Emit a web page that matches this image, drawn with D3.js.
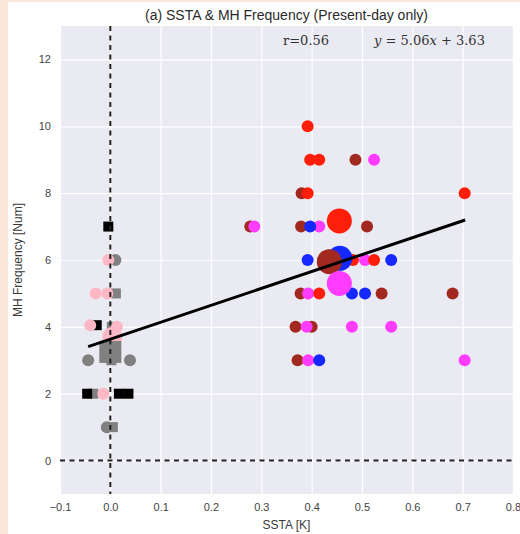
<!DOCTYPE html>
<html>
<head>
<meta charset="utf-8">
<script src="https://cdn.jsdelivr.net/npm/d3@7"></script>
<style>
  body { margin: 0; padding: 0; background: #fce8da; }
  svg { display: block; }
  text { font-family: "Liberation Sans", Arial, sans-serif; }
</style>
</head>
<body>
<svg id="chart" width="520" height="534"></svg>
<script>
// data

var xTicks = [-0.1, 0.0, 0.1, 0.2, 0.3, 0.4, 0.5, 0.6, 0.7, 0.8];
var yTicks = [0, 2, 4, 6, 8, 10, 12];

// present-day points near zero SSTA
var pinkX = [-0.004, -0.029, -0.006, -0.040, 0.013, -0.014];
var pinkY = [6, 5, 5, 4.05, 4, 2];
var grayCircX = [0.010, -0.044, 0.039, -0.007];
var grayCircY = [6, 3, 3, 1];
var graySqX = [0.011, 0.003, 0.002, -0.034, 0.005];
var graySqY = [5, 4, 3, 2, 1];
var blackSqX = [-0.004, -0.027, -0.046, 0.017, 0.036];
var blackSqY = [7, 4.05, 2, 2, 2];

// warm anomalies
var brownX = [0.487, 0.380, 0.278, 0.379, 0.510, 0.378, 0.539, 0.680, 0.368, 0.400, 0.372];
var brownY = [9, 8, 7, 7, 7, 5, 5, 5, 4, 4, 3];
var magentaX = [0.524, 0.286, 0.415, 0.506, 0.393, 0.390, 0.480, 0.558, 0.393, 0.704];
var magentaY = [9, 7, 7, 6, 5, 4, 4, 4, 3, 3];
var blueX = [0.397, 0.392, 0.558, 0.480, 0.506, 0.415];
var blueY = [7, 6, 6, 5, 5, 3];
var redX = [0.392, 0.397, 0.415, 0.392, 0.704, 0.482, 0.524, 0.415];
var redY = [10, 9, 9, 8, 8, 6, 6, 5];

// group means (big markers)
var meanNames = ["pink", "gray", "red", "blue", "brown", "magenta"];
var meanX = [0.004, 0.000, 0.455, 0.456, 0.435, 0.455];
var meanY = [3.7, 3.25, 7.17, 6.05, 5.95, 5.30];

// fit
var slope = 5.06, intercept = 3.63, rValue = 0.56;
var fitXmin = -0.044, fitXmax = 0.705;

var colors = {
  pink: "#ffb8c4", gray: "#808080", black: "#000000",
  brown: "#a2291f", magenta: "#ff3cff", blue: "#1428ff", red: "#ff1e0a"
};

var svg = d3.select("#chart");

// white figure area, peach strip shows at left/top
svg.append("rect").attr("x", 8).attr("y", 2).attr("width", 512).attr("height", 532).attr("fill", "#ffffff");

var plotLeft = 60, plotRight = 513, plotTop = 26, plotBottom = 494;

var x = d3.scaleLinear().domain([-0.1, 0.8]).range([plotLeft, plotRight]);
var y = d3.scaleLinear().domain([-1, 13]).range([plotBottom, plotTop]);

svg.append("rect")
  .attr("x", plotLeft).attr("y", plotTop)
  .attr("width", plotRight - plotLeft).attr("height", plotBottom - plotTop)
  .attr("fill", "#eaeaf2");

// grid
var xAxis = d3.axisBottom(x).tickValues(xTicks).tickSize(-(plotBottom - plotTop)).tickPadding(9)
  .tickFormat(function(d) { return d3.format(".1f")(d).replace("-", "\u2212"); });
var yAxis = d3.axisLeft(y).tickValues(yTicks).tickSize(-(plotRight - plotLeft)).tickPadding(9)
  .tickFormat(d3.format("d"));

var gx = svg.append("g").attr("transform", "translate(0," + plotBottom + ")").call(xAxis);
var gy = svg.append("g").attr("transform", "translate(" + plotLeft + ",0)").call(yAxis);

[gx, gy].forEach(function(g) {
  g.select(".domain").remove();
  g.selectAll(".tick line").attr("stroke", "#ffffff").attr("stroke-width", 1.2);
  g.selectAll(".tick text").attr("fill", "#444").style("font-size", "11px")
    .style("font-family", "'Liberation Sans', Arial, sans-serif");
});

var plot = svg.append("g");

function circles(xs, ys, col, r) {
  plot.selectAll(null).data(xs).enter().append("circle")
    .attr("cx", function(d) { return x(d); })
    .attr("cy", function(d, i) { return y(ys[i]); })
    .attr("r", r)
    .attr("fill", col);
}

function squares(xs, ys, col, s) {
  plot.selectAll(null).data(xs).enter().append("rect")
    .attr("x", function(d) { return x(d) - s / 2; })
    .attr("y", function(d, i) { return y(ys[i]) - s / 2; })
    .attr("width", s).attr("height", s)
    .attr("fill", col);
}

// near-zero cluster
squares(graySqX, graySqY, colors.gray, 10);
circles(grayCircX, grayCircY, colors.gray, 6);
squares(blackSqX, blackSqY, colors.black, 10);
circles(pinkX, pinkY, colors.pink, 6);

// warm cluster
circles(brownX, brownY, colors.brown, 6);
circles(magentaX, magentaY, colors.magenta, 6);
circles(blueX, blueY, colors.blue, 6);
circles(redX, redY, colors.red, 6);

// means
meanNames.forEach(function(n, i) {
  if (n == "gray") {
    plot.append("rect")
      .attr("x", x(meanX[i]) - 11).attr("y", y(meanY[i]) - 11)
      .attr("width", 22).attr("height", 22)
      .attr("fill", colors.gray);
  } else {
    plot.append("circle")
      .attr("cx", x(meanX[i])).attr("cy", y(meanY[i]))
      .attr("r", n == "pink" ? 10 : 12.5)
      .attr("fill", colors[n]);
  }
});

// zero lines
svg.append("line")
  .attr("x1", x(0)).attr("x2", x(0)).attr("y1", plotTop).attr("y2", plotBottom)
  .attr("stroke", "#222").attr("stroke-width", 2).attr("stroke-dasharray", "5,4.5");
svg.append("line")
  .attr("x1", plotLeft).attr("x2", plotRight).attr("y1", y(0)).attr("y2", y(0))
  .attr("stroke", "#222").attr("stroke-width", 2).attr("stroke-dasharray", "5,4.5");

// regression line
svg.append("line")
  .attr("x1", x(fitXmin)).attr("y1", y(slope * fitXmin + intercept))
  .attr("x2", x(fitXmax)).attr("y2", y(slope * fitXmax + intercept))
  .attr("stroke", "#000").attr("stroke-width", 3);

// title and labels
svg.append("text")
  .attr("x", (plotLeft + plotRight) / 2).attr("y", 20)
  .attr("text-anchor", "middle")
  .attr("fill", "#2a2a2a")
  .style("font-size", "14px")
  .text("(a) SSTA & MH Frequency (Present-day only)");

svg.append("text")
  .attr("x", (plotLeft + plotRight) / 2).attr("y", 529)
  .attr("text-anchor", "middle")
  .attr("fill", "#3a3a3a")
  .style("font-size", "12px")
  .text("SSTA [K]");

svg.append("text")
  .attr("transform", "translate(22," + (plotTop + plotBottom) / 2 + ") rotate(-90)")
  .attr("text-anchor", "middle")
  .attr("fill", "#3a3a3a")
  .style("font-size", "12px")
  .text("MH Frequency [Num]");

// annotations
svg.append("text")
  .attr("x", 283).attr("y", 45)
  .attr("fill", "#333")
  .style("font-family", "'DejaVu Serif', serif")
  .style("font-size", "13px")
  .text("r=" + d3.format(".2f")(rValue));

var eq = svg.append("text")
  .attr("x", 374).attr("y", 45)
  .attr("fill", "#333")
  .style("font-family", "'DejaVu Serif', serif")
  .style("font-size", "13px");
eq.append("tspan").style("font-style", "italic").text("y");
eq.append("tspan").text(" = " + slope.toFixed(2));
eq.append("tspan").style("font-style", "italic").text("x");
eq.append("tspan").text(" + " + intercept.toFixed(2));
</script>
</body>
</html>
